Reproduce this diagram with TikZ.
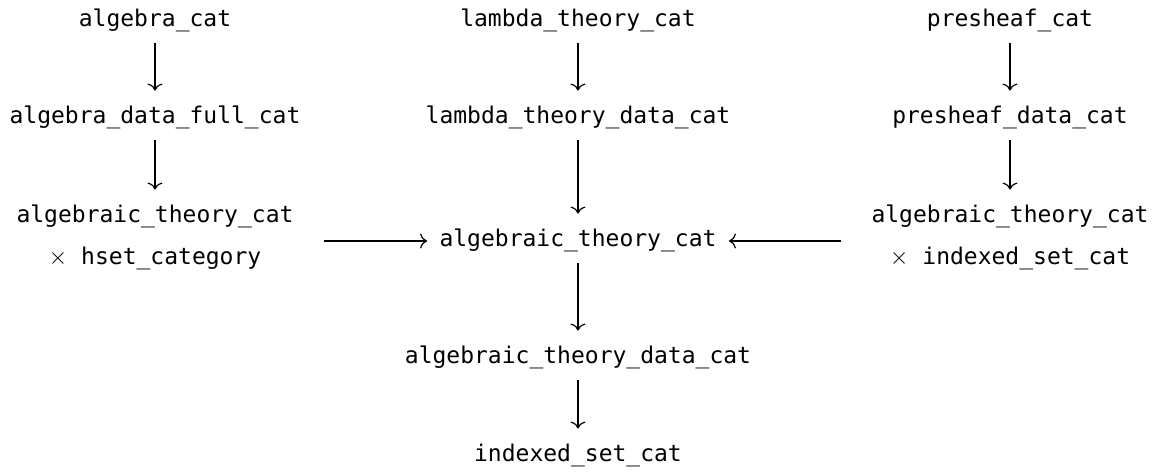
\documentclass[tikz,border=0pt]{standalone}
\usepackage{fontspec}
\setmonofont{DejaVu Sans Mono}
\usetikzlibrary{arrows.meta}

\begin{document}
\begin{tikzpicture}[x=0.5pt, y=-0.5pt,
    cat/.style={inner sep=0pt, text height=8.5pt, text depth=2.5pt, align=center,
        font=\fontsize{11.5}{21}\selectfont\ttfamily},
    prod/.style={cat, text height=29.5pt},
    arr/.style={-{To[length=3.5pt, width=7.5pt]}, line width=0.6pt, shorten <=5.5pt, shorten >=8pt},
    side/.style={arr, shorten <=15pt, shorten >=6pt}]
    \useasboundingbox (0,0) rectangle (1158,474);
    % left column
    \node[cat, anchor=base] (alg) at (155,27) {algebra\_cat};
    \node[cat, anchor=base] (algdata) at (155,124) {algebra\_data\_full\_cat};
    \node[prod, anchor=base] (algprod) at (155,265) {algebraic\_theory\_cat\\$\times$ hset\_category};
    % middle column
    \node[cat, anchor=base] (lam) at (578,27) {lambda\_theory\_cat};
    \node[cat, anchor=base] (lamdata) at (578,124) {lambda\_theory\_data\_cat};
    \node[cat, anchor=base] (thy) at (578,247) {algebraic\_theory\_cat};
    \node[cat, anchor=base] (thydata) at (578,364) {algebraic\_theory\_data\_cat};
    \node[cat, anchor=base] (iset) at (578,462) {indexed\_set\_cat};
    % right column
    \node[cat, anchor=base] (psh) at (1010,27) {presheaf\_cat};
    \node[cat, anchor=base] (pshdata) at (1010,124) {presheaf\_data\_cat};
    \node[prod, anchor=base] (pshprod) at (1010,265) {algebraic\_theory\_cat\\$\times$ indexed\_set\_cat};

    \draw[arr] (alg) -- (algdata);
    \draw[arr] (algdata) -- (algprod);
    \draw[arr] (lam) -- (lamdata);
    \draw[arr] (lamdata) -- (thy);
    \draw[arr] (psh) -- (pshdata);
    \draw[arr] (pshdata) -- (pshprod);
    \draw[arr] (thy) -- (thydata);
    \draw[arr] (thydata) -- (iset);
    \draw[side] (algprod.east |- thy) -- (thy.west);
    \draw[side] (pshprod.west |- thy) -- (thy.east);
\end{tikzpicture}
\end{document}
